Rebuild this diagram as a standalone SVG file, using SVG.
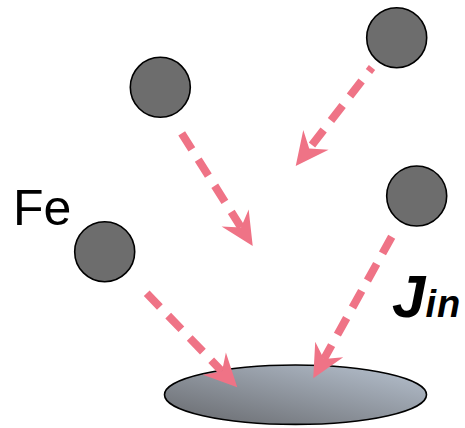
<svg xmlns="http://www.w3.org/2000/svg" width="465" height="428" viewBox="0 0 465 428">
<defs>
<style>
.atom{fill:#6d6d6d;stroke:#000;stroke-width:1.6}
.flux{fill:none;stroke:#ef7386;stroke-width:8;stroke-dasharray:19 12;marker-end:url(#head)}
.lbl{font-family:"Liberation Sans",Arial,sans-serif;fill:#000}
</style>
<marker id="head" markerUnits="userSpaceOnUse" orient="auto" refX="0" refY="0" markerWidth="60" markerHeight="40" viewBox="-15 -20 60 40" overflow="visible">
<path d="M22,0 L-11,-16 L0,0 L-11,16 Z" fill="#ef7386"/>
</marker>
<linearGradient id="surf" x1="0" y1="1" x2="1" y2="0">
<stop offset="0" stop-color="#66686c"/>
<stop offset="1" stop-color="#b8c3d1"/>
</linearGradient>
</defs>
<g id="surface">
<ellipse cx="295.5" cy="394.7" rx="131" ry="29.7" fill="url(#surf)" stroke="#000" stroke-width="1.6"/>
</g>
<g id="connectors">
<path class="flux" d="M181.7,133.3 L241,227.4"/>
<path class="flux" d="M372,67.5 L309.2,148.6" stroke-dashoffset="14"/>
<path class="flux" d="M146.7,293.3 L222,371.5"/>
<path class="flux" d="M391.7,236.7 L323.9,359.1"/>
</g>
<g id="atom1"><circle class="atom" cx="160.3" cy="87.3" r="30"/></g>
<g id="atom2"><circle class="atom" cx="396.7" cy="37.7" r="30"/></g>
<g id="atom3"><circle class="atom" cx="104.7" cy="251.7" r="30"/></g>
<g id="atom4"><circle class="atom" cx="416.7" cy="196" r="30"/></g>
<g id="label-fe"><text class="lbl" x="13" y="225" font-size="50">Fe</text></g>
<g id="label-jin"><text class="lbl" x="392" y="317" font-size="60" font-weight="bold" font-style="italic">J<tspan font-size="38" letter-spacing="1">in</tspan></text></g>
</svg>
